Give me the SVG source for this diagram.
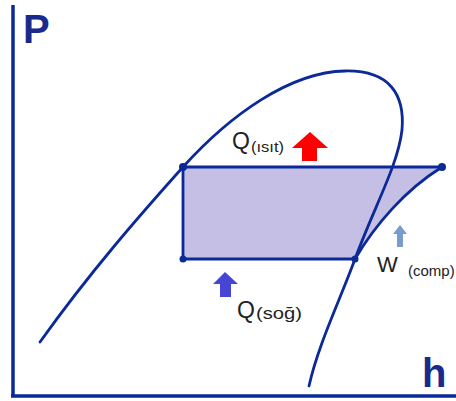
<svg xmlns="http://www.w3.org/2000/svg" width="456" height="401" viewBox="0 0 456 401">
<style>
.ax{stroke:#0a2a9a;stroke-width:3.5;fill:none}
.cv{stroke:#0b2a98;stroke-width:2.8;fill:none;stroke-linecap:round;stroke-linejoin:round}
.dot{fill:#0b2a98}
.lbl{font-family:"Liberation Sans",Arial,sans-serif;fill:#222}
.axl{font-family:"Liberation Sans",Arial,sans-serif;font-weight:bold;fill:#1a2a8c;font-size:40px}
</style>
<g id="axes">
<line class="ax" x1="13" y1="5" x2="13" y2="397"/>
<line class="ax" x1="11" y1="396" x2="456" y2="396"/>
<text class="axl" x="23" y="43">P</text>
<text class="axl" x="422" y="387">h</text>
</g>
<g id="cycle-area">
<path d="M183,167 L442,167 C405,190 375,225 355,259 L183,259 Z" fill="#c5bfe5"/>
</g>
<g id="connectors">
<path id="dome" class="cv" d="M40,342 C90,272 140,215 183,167 C230,115 290,72 345,71 C390,70 405,95 402,130 C398,165 375,205 355,259 C340,300 318,345 309,386"/>
<path id="condense" class="cv" d="M183,167 L442,167"/>
<path id="expand" class="cv" d="M183,167 L183,259"/>
<path id="evaporate" class="cv" d="M183,259 L355,259"/>
<path id="compress" class="cv" d="M355,259 C375,225 405,190 442,167"/>
</g>
<g id="points">
<circle class="dot" cx="183" cy="167" r="4"/>
<circle class="dot" cx="183" cy="259" r="3.5"/>
<circle class="dot" cx="355" cy="259" r="3.5"/>
<circle class="dot" cx="442" cy="167" r="4"/>
</g>
<g id="q-isit">
<text class="lbl" x="232" y="149" font-size="23">Q</text>
<text class="lbl" x="251" y="152" font-size="14" textLength="33" lengthAdjust="spacingAndGlyphs">(ısıt)</text>
<path d="M310,132 L328,148 L317,148 L317,161 L302,161 L302,148 L292,148 Z" fill="#ff0000"/>
</g>
<g id="q-sog">
<path d="M225,272 L238,284 L231,284 L231,297 L220,297 L220,284 L213,284 Z" fill="#4646d6"/>
<text class="lbl" x="237" y="318" font-size="23">Q</text>
<text class="lbl" x="256" y="319" font-size="17" textLength="46" lengthAdjust="spacingAndGlyphs">(soğ)</text>
</g>
<g id="w-comp">
<path d="M400,225 L407,234 L403,234 L403,247 L397,247 L397,234 L393,234 Z" fill="#7a9ccc"/>
<text class="lbl" x="377" y="272" font-size="22">W</text>
<text class="lbl" x="408" y="276" font-size="15">(comp)</text>
</g>
</svg>
